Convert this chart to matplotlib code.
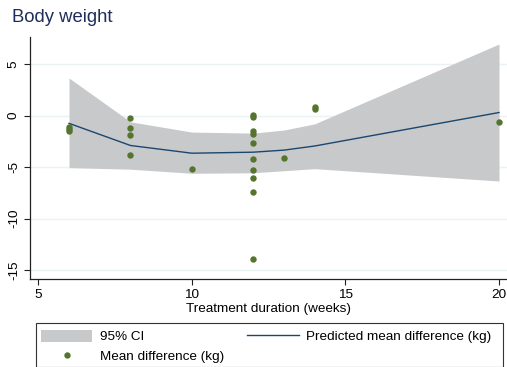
import numpy as np
import matplotlib
matplotlib.use("Agg")
from matplotlib import pyplot as plt
from matplotlib.patches import Patch, Rectangle
from matplotlib.lines import Line2D

plt.rcParams['font.family'] = ['Liberation Sans', 'DejaVu Sans']

# observed study-level mean differences
study_weeks = [6, 6, 6, 8, 8, 8, 8, 10,
               12, 12, 12, 12, 12, 12, 12, 12, 12, 12,
               13, 14, 14, 20]
study_diff = [-1.1, -1.3, -1.5, -0.25, -1.2, -1.9, -3.8, -5.2,
              0.05, -0.15, -1.45, -1.75, -2.7, -4.2, -5.3, -6.05, -7.45, -13.9,
              -4.1, 0.6, 0.8, -0.65]

# meta-regression prediction and its 95% CI
pred_weeks = [6, 8, 10, 12, 13, 14, 20]
pred_mean = [-0.75, -2.9, -3.65, -3.55, -3.35, -2.95, 0.3]
ci_upper = [3.65, -0.6, -1.6, -1.7, -1.4, -0.8, 6.95]
ci_lower = [-5.05, -5.2, -5.6, -5.55, -5.35, -5.15, -6.35]

xticks = [5, 10, 15, 20]
yticks = [5, 0, -5, -10, -15]

navy = '#1a476f'
green = '#55752f'
ci_grey = '#c8c9cb'

W, H = 507, 367
fig = plt.figure(figsize=(W / 100, H / 100), dpi=100)
ax = fig.add_axes([0.0598, 0.2398, 0.9402, 0.6602])

ax.fill_between(pred_weeks, ci_lower, ci_upper, color=ci_grey, lw=0, zorder=1)
ax.plot(pred_weeks, pred_mean, color=navy, lw=1.0, zorder=3)
ax.plot(study_weeks, study_diff, 'o', color=green, ms=4.6, mew=0, zorder=4)

ax.set_xlim(4.74, 20.26)
ax.set_ylim(-15.86, 7.66)
ax.set_xticks(xticks)
ax.set_yticks(yticks)
ax.set_yticklabels([str(t) for t in yticks], rotation=90, va='center')
ax.grid(axis='y', color='#eaf2f3', lw=1.0, zorder=0)
ax.set_axisbelow(True)

for side in ['top', 'right']:
    ax.spines[side].set_visible(False)
for side in ['left', 'bottom']:
    ax.spines[side].set_linewidth(0.9)
    ax.spines[side].set_color('#222222')
ax.tick_params(axis='both', labelsize=9.7, color='#222222', width=0.8,
               length=4.5, pad=3)

ax.set_xlabel('Treatment duration (weeks)', fontsize=9.7, labelpad=1)
fig.text(12 / W, 1 - 9 / H, 'Body weight', fontsize=13.3, color='#1e2d5a',
         va='top', ha='left')

# legend box drawn separately so it can be wider than its contents
fig.patches.append(Rectangle((36 / W, 1 - 366.5 / H), 466.5 / W, 44 / H,
                             transform=fig.transFigure, fill=False,
                             edgecolor='#333333', lw=0.8))

handles = [Patch(facecolor=ci_grey, edgecolor='none', label='95% CI'),
           Line2D([], [], marker='o', ls='none', color=green, ms=4.6, mew=0,
                  label='Mean difference (kg)'),
           Line2D([], [], color=navy, lw=1.0,
                  label='Predicted mean difference (kg)')]
leg = fig.legend(handles=handles, ncol=2, loc='upper left',
                 bbox_to_anchor=(41 / W, 1 - 329.5 / H),
                 fontsize=9.7, frameon=False, handlelength=3.8,
                 handleheight=1.05, handletextpad=0.55, columnspacing=1.75,
                 labelspacing=0.45, borderpad=0.0, borderaxespad=0.0)

fig.savefig('out.png', dpi=100)
